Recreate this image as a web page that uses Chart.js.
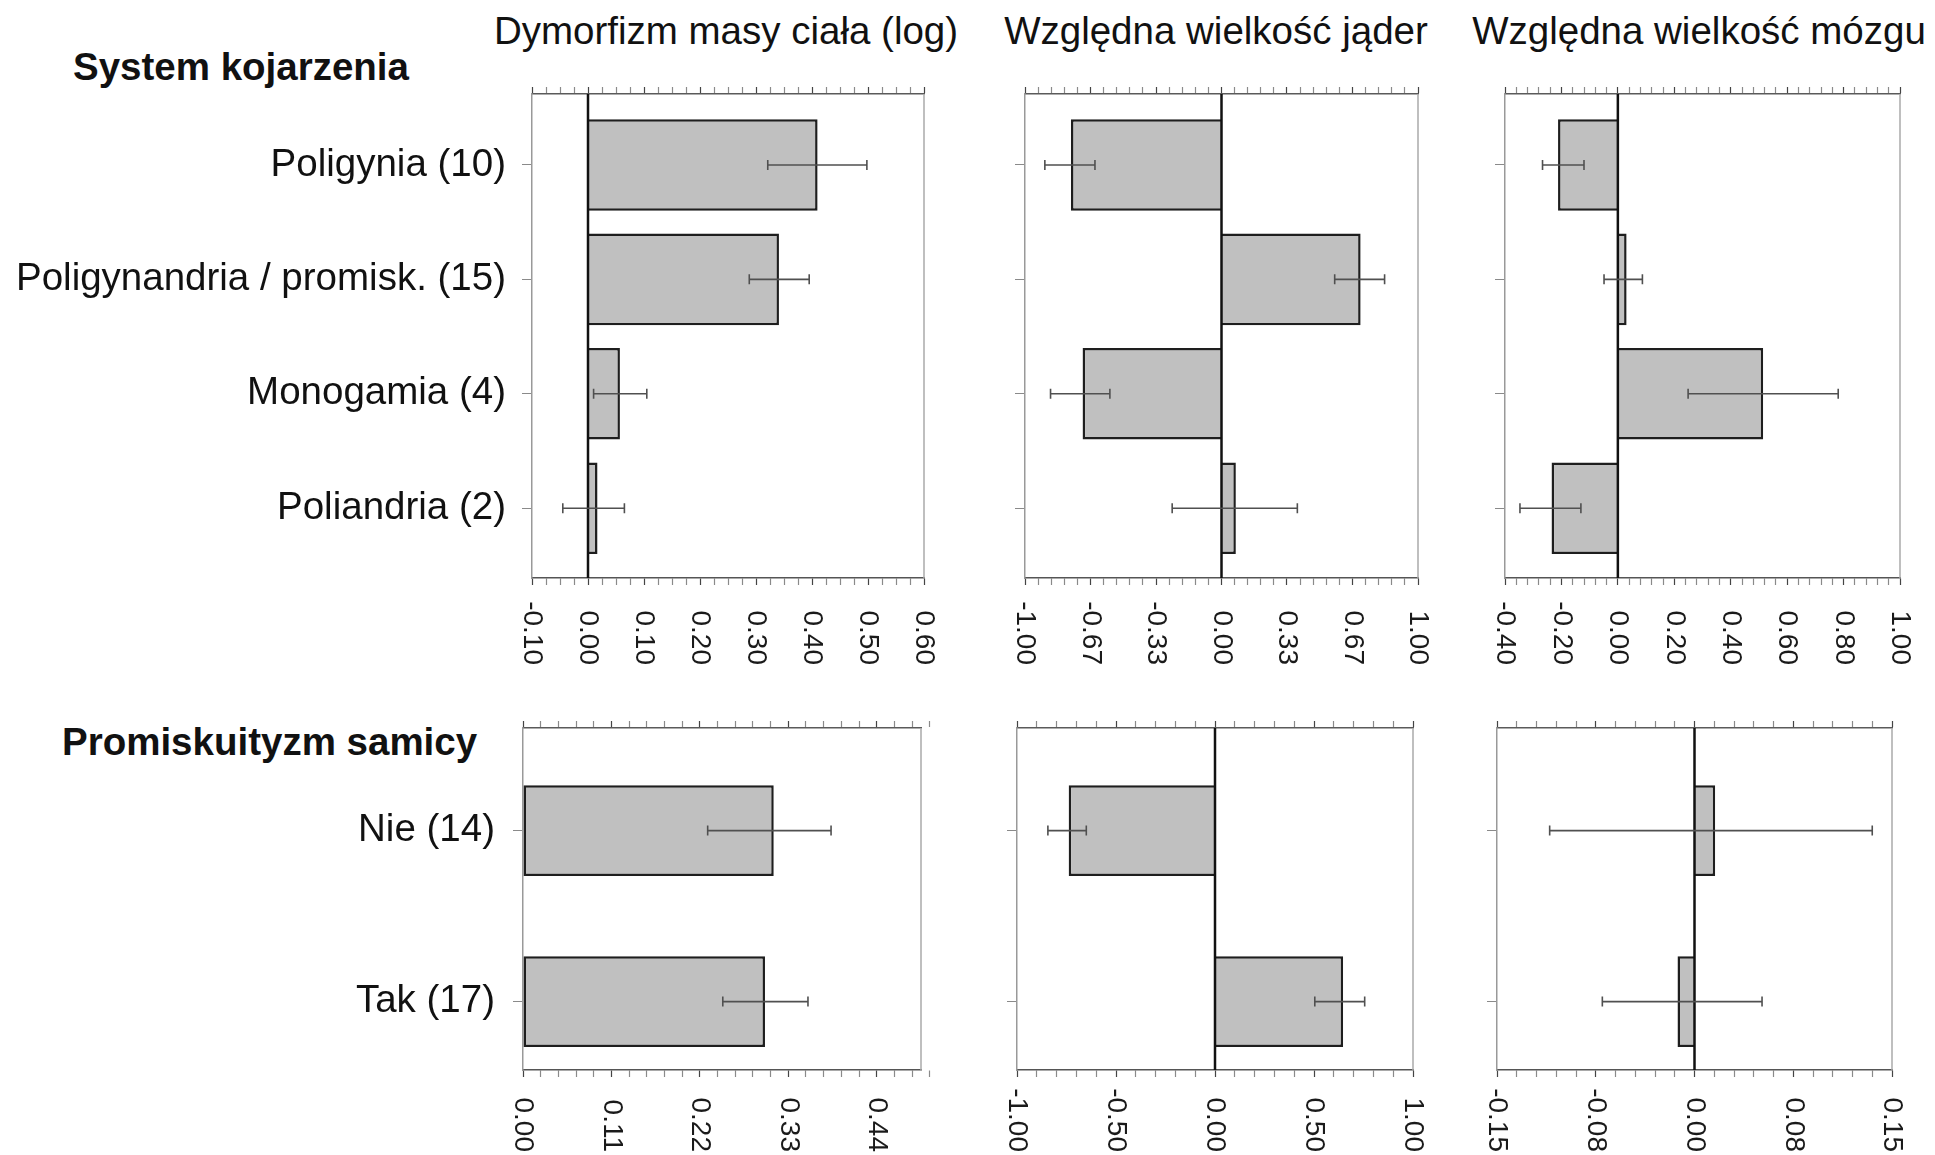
<!DOCTYPE html>
<html><head><meta charset="utf-8">
<script src="https://cdn.jsdelivr.net/npm/chart.js@4.4.0/dist/chart.umd.min.js"></script>
<style>
html,body{margin:0;padding:0;background:#fff;width:1935px;height:1155px;overflow:hidden;}
body{position:relative;font-family:"Liberation Sans",Arial,sans-serif;color:#111;}
canvas{position:absolute;}
.h{position:absolute;font-size:38.5px;line-height:38px;white-space:nowrap;}
.colh{width:600px;text-align:center;}
.sec{font-weight:bold;}
</style></head><body>
<div class="h colh" style="left:426px;top:12px">Dymorfizm masy ciała (log)</div>
<div class="h colh" style="left:916px;top:12px">Względna wielkość jąder</div>
<div class="h colh" style="left:1399px;top:12px">Względna wielkość mózgu</div>
<div class="h sec" style="left:73px;top:48px">System kojarzenia</div>
<div class="h sec" style="left:62px;top:723px">Promiskuityzm samicy</div>

<canvas id="a1" width="939" height="606" style="left:0px;top:74px"></canvas>
<canvas id="a2" width="428" height="606" style="left:1005px;top:74px"></canvas>
<canvas id="a3" width="430" height="606" style="left:1485px;top:74px"></canvas>
<canvas id="b1" width="936" height="447" style="left:0px;top:708px"></canvas>
<canvas id="b2" width="431" height="447" style="left:997px;top:708px"></canvas>
<canvas id="b3" width="430" height="447" style="left:1477px;top:708px"></canvas>

<script>
// ---------- DATA ----------
const matingLabels = ["Poligynia (10)", "Poligynandria / promisk. (15)", "Monogamia (4)", "Poliandria (2)"];
const promLabels = ["Nie (14)", "Tak (17)"];

// Dymorfizm masy ciała (log) – system kojarzenia
const dimorphMating     = [0.410, 0.341, 0.057, 0.017];
const dimorphMatingLow  = [0.321, 0.288, 0.010, -0.045];
const dimorphMatingHigh = [0.498, 0.395, 0.105, 0.065];
// Względna wielkość jąder – system kojarzenia
const testesMating     = [-0.766, 0.708, -0.707, 0.073];
const testesMatingLow  = [-0.899, 0.576, -0.870, -0.251];
const testesMatingHigh = [-0.644, 0.830, -0.568, 0.386];
// Względna wielkość mózgu – system kojarzenia
const brainMating     = [-0.212, 0.031, 0.515, -0.235];
const brainMatingLow  = [-0.267, -0.049, 0.249, -0.347];
const brainMatingHigh = [-0.120, 0.087, 0.781, -0.131];

// Promiskuityzm samicy
const dimorphProm     = [0.315, 0.304];
const dimorphPromLow  = [0.232, 0.251];
const dimorphPromHigh = [0.387, 0.358];
const testesProm     = [-0.739, 0.647];
const testesPromLow  = [-0.844, 0.504];
const testesPromHigh = [-0.650, 0.756];
const brainProm     = [0.0157, -0.0129];
const brainPromLow  = [-0.110, -0.070];
const brainPromHigh = [0.135, 0.0513];

// Tick values and labels
const dimorphMatingTicks = [-0.1, 0, 0.1, 0.2, 0.3, 0.4, 0.5, 0.6];
const dimorphMatingTickLabels = ["-0.10", "0.00", "0.10", "0.20", "0.30", "0.40", "0.50", "0.60"];
const testesMatingTicks = [-1, -0.6667, -0.3333, 0, 0.3333, 0.6667, 1];
const testesMatingTickLabels = ["-1.00", "-0.67", "-0.33", "0.00", "0.33", "0.67", "1.00"];
const brainMatingTicks = [-0.4, -0.2, 0, 0.2, 0.4, 0.6, 0.8, 1.0];
const brainMatingTickLabels = ["-0.40", "-0.20", "0.00", "0.20", "0.40", "0.60", "0.80", "1.00"];
const dimorphPromTicks = [0, 0.1111, 0.2222, 0.3333, 0.4444];
const dimorphPromTickLabels = ["0.00", "0.11", "0.22", "0.33", "0.44"];
const testesPromTicks = [-1, -0.5, 0, 0.5, 1];
const testesPromTickLabels = ["-1.00", "-0.50", "0.00", "0.50", "1.00"];
const brainPromTicks = [-0.15, -0.075, 0, 0.075, 0.15];
const brainPromTickLabels = ["-0.15", "-0.08", "0.00", "0.08", "0.15"];

// ---------- RENDERING ----------
const FONT = '"Liberation Sans", Arial, sans-serif';

function zeroPad(s) { s.paddingTop = 0; s.paddingBottom = 0; s.paddingLeft = 0; s.paddingRight = 0; }

function xTicks(p) {
  const out = p.ticks.map(v => ({ value: v, major: true }));
  const n = Math.round((p.max - p.min) / p.minor);
  for (let k = 0; k <= n; k++) {
    const v = p.min + k * p.minor;
    if (!out.some(t => Math.abs(t.value - v) < p.minor * 0.3)) out.push({ value: v });
  }
  return out.sort((a, b) => a.value - b.value);
}

function panel(id, p) {
  const deco = {
    id: 'deco',
    afterDatasetsDraw(chart) {
      const ctx = chart.ctx, xs = chart.scales.x, ys = chart.scales.y, a = chart.chartArea;
      const ds = chart.data.datasets[0];
      ctx.save();
      // zero reference line (on top of the bars' base)
      if (p.min < 0) {
        const x0 = xs.getPixelForValue(0);
        ctx.strokeStyle = '#111111'; ctx.lineWidth = 2.5;
        ctx.beginPath(); ctx.moveTo(x0, a.top); ctx.lineTo(x0, a.bottom); ctx.stroke();
      }
      // error bars
      ctx.strokeStyle = '#505050'; ctx.lineWidth = 1.6;
      ds.errLow.forEach((lo, i) => {
        const y = ys.getPixelForValue(i);
        const x1 = xs.getPixelForValue(lo), x2 = xs.getPixelForValue(ds.errHigh[i]);
        ctx.beginPath();
        ctx.moveTo(x1, y); ctx.lineTo(x2, y);
        ctx.moveTo(x1, y - 5); ctx.lineTo(x1, y + 5);
        ctx.moveTo(x2, y - 5); ctx.lineTo(x2, y + 5);
        ctx.stroke();
      });
      ctx.restore();
    },
    afterDraw(chart) {
      const ctx = chart.ctx, a = chart.chartArea, xs = chart.scales.x;
      ctx.save();
      ctx.strokeStyle = '#aaaaaa'; ctx.lineWidth = 1.5;
      ctx.beginPath(); ctx.moveTo(a.right, a.top); ctx.lineTo(a.right, a.bottom); ctx.stroke();
      ctx.fillStyle = '#1a1a1a';
      ctx.font = '28px ' + FONT;
      ctx.textAlign = 'right'; ctx.textBaseline = 'middle';
      p.ticks.forEach((v, i) => {
        const x = xs.getPixelForValue(v);
        ctx.save();
        ctx.translate(x, a.bottom + p.labelEnd);
        ctx.rotate(Math.PI / 2);
        ctx.fillText(p.tickLabels[i], 0, 0);
        ctx.restore();
      });
      ctx.restore();
    }
  };

  const xGrid = (onArea) => ({
    drawOnChartArea: onArea, drawTicks: true, tickLength: 7,
    color: 'rgba(0,0,0,0)',
    lineWidth: 1,
    tickColor: c => (c.tick && c.tick.major) ? '#444444' : '#8a8a8a',
    tickWidth: 1.2
  });

  return new Chart(document.getElementById(id), {
    type: 'bar',
    data: {
      datasets: [{
        data: p.values.map((v, i) => ({ x: v, y: i })),
        backgroundColor: '#c0c0c0',
        borderColor: '#1e1e1e',
        borderWidth: 2.5,
        borderSkipped: p.min < 0 ? 'start' : false,
        categoryPercentage: 1,
        barPercentage: p.barPct,
        errLow: p.low,
        errHigh: p.high
      }]
    },
    options: {
      indexAxis: 'y',
      responsive: false,
      animation: false,
      events: [],
      layout: { padding: { left: 0, right: p.padR, top: 0, bottom: 0 } },
      plugins: { legend: { display: false }, tooltip: { enabled: false } },
      scales: {
        x: {
          type: 'linear', position: 'bottom', min: p.min, max: p.max,
          afterBuildTicks: s => { s.ticks = xTicks(p); },
          afterFit: s => { s.height = p.botH; zeroPad(s); },
          ticks: { display: false, autoSkip: false },
          grid: xGrid(true),
          border: { display: true, color: '#555555', width: 1.5 }
        },
        x2: {
          type: 'linear', position: 'top', min: p.min, max: p.max,
          afterBuildTicks: s => { s.ticks = xTicks(p); },
          afterFit: s => { s.height = p.topH; zeroPad(s); },
          ticks: { display: false, autoSkip: false },
          grid: xGrid(false),
          border: { display: true, color: '#5a5a5a', width: 1.5 }
        },
        y: {
          type: 'linear', min: p.idxMin, max: p.idxMax, reverse: true, offset: false,
          afterBuildTicks: s => { s.ticks = p.cats.map((c, i) => ({ value: i })); },
          afterFit: s => { s.width = p.yW; zeroPad(s); },
          ticks: {
            display: p.showCats, autoSkip: false, padding: p.labPad, color: '#111111',
            font: { size: 38.5, family: FONT },
            callback: v => p.cats[v]
          },
          grid: { drawOnChartArea: false, drawTicks: true, tickLength: 10, color: '#8a8a8a', offset: false },
          border: { display: true, color: '#999999', width: 1.5 }
        }
      }
    },
    plugins: [deco]
  });
}

const topRow = { cats: matingLabels, idxMin: -0.62, idxMax: 3.61, barPct: 0.8, topH: 20, botH: 102, padR: 15, labelEnd: 87 };
const botRow = { cats: promLabels, idxMin: -0.6, idxMax: 1.4, barPct: 0.53, topH: 20, botH: 85, padR: 15, labelEnd: 82 };

panel('a1', Object.assign({}, topRow, { values: dimorphMating, low: dimorphMatingLow, high: dimorphMatingHigh,
  min: -0.1, max: 0.6, ticks: dimorphMatingTicks, tickLabels: dimorphMatingTickLabels, minor: 0.025,
  showCats: true, yW: 532, labPad: 16 }));
panel('a2', Object.assign({}, topRow, { values: testesMating, low: testesMatingLow, high: testesMatingHigh,
  min: -1, max: 1, ticks: testesMatingTicks, tickLabels: testesMatingTickLabels, minor: 0.06667,
  showCats: false, yW: 20, labPad: 16 }));
panel('a3', Object.assign({}, topRow, { values: brainMating, low: brainMatingLow, high: brainMatingHigh,
  min: -0.4, max: 1.0, ticks: brainMatingTicks, tickLabels: brainMatingTickLabels, minor: 0.04,
  showCats: false, yW: 20, labPad: 16 }));
panel('b1', Object.assign({}, botRow, { values: dimorphProm, low: dimorphPromLow, high: dimorphPromHigh,
  min: 0, max: 0.5, ticks: dimorphPromTicks, tickLabels: dimorphPromTickLabels, minor: 0.02222,
  showCats: true, yW: 523, labPad: 18 }));
panel('b2', Object.assign({}, botRow, { values: testesProm, low: testesPromLow, high: testesPromHigh,
  min: -1, max: 1, ticks: testesPromTicks, tickLabels: testesPromTickLabels, minor: 0.1,
  showCats: false, yW: 20, labPad: 18 }));
panel('b3', Object.assign({}, botRow, { values: brainProm, low: brainPromLow, high: brainPromHigh,
  min: -0.15, max: 0.15, ticks: brainPromTicks, tickLabels: brainPromTickLabels, minor: 0.015,
  showCats: false, yW: 20, labPad: 18 }));
</script>
</body></html>
